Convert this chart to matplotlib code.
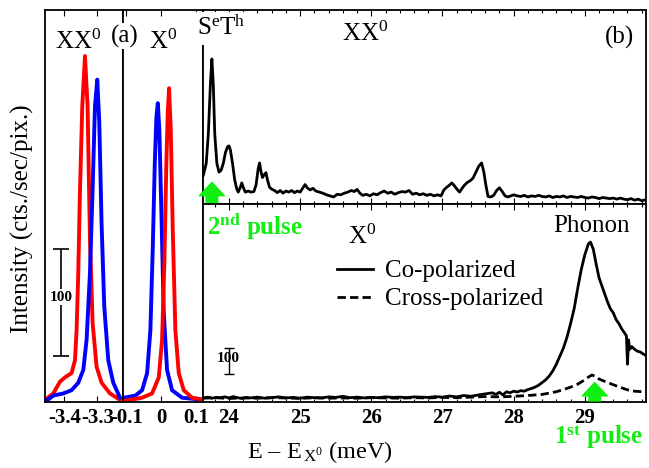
import numpy as np
import matplotlib
matplotlib.use("Agg")
from matplotlib import pyplot as plt
from matplotlib.ticker import MultipleLocator, FixedLocator

plt.rcParams['font.family'] = ['Liberation Serif', 'DejaVu Serif']
plt.rcParams['mathtext.fontset'] = 'custom'
plt.rcParams['mathtext.rm'] = 'Liberation Serif'
plt.rcParams['mathtext.it'] = 'Liberation Serif:italic'
plt.rcParams['mathtext.bf'] = 'Liberation Serif:bold'
plt.rcParams['mathtext.default'] = 'regular'
plt.rcParams['axes.unicode_minus'] = False

# ---- panel (a): XX0 peaks (energy meV, intensity)
xx_red_e = [-3.4585, -3.4333, -3.413, -3.3979, -3.3779, -3.3676, -3.3627, -3.3576,
            -3.3524, -3.3455, -3.3373, -3.3294, -3.3221, -3.3142, -3.3021, -3.287,
            -3.2615, -3.2312]
xx_red_i = [2, 8, 19, 23, 27, 39, 67, 121, 198, 276, 323, 276, 151, 74, 33, 18, 8, 2]
xx_blue_e = [-3.4585, -3.4333, -3.403, -3.3779, -3.3576, -3.3424, -3.3324, -3.3221,
             -3.3142, -3.307, -3.300, -3.2939, -3.287, -3.2788, -3.2667, -3.2515, -3.2312]
xx_blue_i = [0, 6, 8, 11, 18, 30, 58, 121, 198, 276, 301, 261, 167, 89, 39, 18, 4]

# ---- panel (a): X0 peaks
x_blue_e = [-0.1066, -0.0734, -0.0543, -0.040, -0.0306, -0.0237, -0.018, -0.0134,
            -0.0094, -0.0049, 0.0009, 0.0077, 0.0171, 0.0314, 0.060, 0.122]
x_blue_i = [4, 6, 11, 27, 67, 145, 223, 266, 279, 254, 177, 83, 30, 11, 4, 2]
x_red_e = [-0.1066, -0.0543, -0.0257, -0.0066, 0.0029, 0.0094, 0.0151, 0.0191, 0.0229,
           0.0277, 0.0334, 0.0409, 0.0506, 0.0649, 0.0886, 0.122]
x_red_i = [1, 4, 8, 23, 58, 130, 223, 270, 293, 254, 161, 67, 27, 11, 4, 2]

# ---- panel (b) top: XX0 excitation trace
xx_pl_e = [23.64, 23.68, 23.71, 23.74, 23.76, 23.78, 23.80, 23.83, 23.86, 23.89, 23.92,
           23.95, 23.98, 24.00, 24.02, 24.05, 24.08, 24.11, 24.13, 24.16, 24.18, 24.20,
           24.23, 24.27, 24.31, 24.35, 24.38, 24.41, 24.43, 24.45, 24.47, 24.50, 24.52,
           24.54, 24.57, 24.60, 24.64, 24.68, 24.72, 24.76, 24.80, 24.84, 24.88, 24.92,
           24.96, 25.00, 25.04, 25.07, 25.10, 25.14, 25.18, 25.22, 25.27, 25.32, 25.37,
           25.42, 25.47, 25.52, 25.57, 25.62, 25.67, 25.72, 25.76, 25.80, 25.84, 25.88,
           25.93, 25.98, 26.03, 26.08, 26.13, 26.18, 26.23, 26.28, 26.33, 26.38, 26.43,
           26.48, 26.53, 26.58, 26.63, 26.68, 26.73, 26.78, 26.83, 26.88, 26.93, 26.98,
           27.02, 27.06, 27.10, 27.13, 27.16, 27.20, 27.24, 27.27, 27.31, 27.35, 27.39,
           27.43, 27.47, 27.51, 27.55, 27.58, 27.61, 27.64, 27.68, 27.72, 27.76, 27.80,
           27.84, 27.88, 27.92, 27.96, 28.00, 28.05, 28.10, 28.15, 28.20, 28.25, 28.30,
           28.35, 28.40, 28.45, 28.50, 28.55, 28.60, 28.65, 28.70, 28.75, 28.80, 28.85,
           28.90, 28.95, 29.00, 29.05, 29.10, 29.15, 29.20, 29.25, 29.30, 29.35, 29.40,
           29.45, 29.50, 29.55, 29.60, 29.65, 29.70, 29.75, 29.80, 29.86]
xx_pl_i = [107, 150, 260, 450, 537, 440, 260, 150, 118, 125, 150,
           190, 212, 215, 200, 150, 90, 55, 44, 62, 78, 62,
           44, 48, 44, 46, 70, 130, 152, 120, 98, 110, 116,
           90, 62, 55, 50, 42, 50, 40, 48, 44, 50, 42,
           48, 44, 60, 72, 60, 52, 58, 48, 44, 40, 34,
           30, 26, 36, 34, 40, 44, 50, 46, 54, 40, 32,
           36, 30, 38, 34, 42, 48, 40, 44, 36, 42, 46,
           44, 50, 36, 40, 34, 38, 32, 36, 30, 34, 30,
           52, 62, 70, 78, 70, 56, 44, 56, 70, 80, 86,
           96, 118, 140, 152, 120, 70, 28, 26, 32, 50, 60,
           46, 30, 26, 30, 34, 30, 28, 32, 26, 30, 28,
           32, 28, 26, 30, 24, 28, 26, 30, 24, 28, 26,
           24, 28, 24, 22, 26, 24, 20, 24, 22, 20, 22,
           18, 22, 18, 16, 20, 14, 18, 12, 16]

# ---- panel (b) bottom: X0 excitation, co- and cross-polarized
co_e = [23.64, 23.70, 23.76, 23.82, 23.88, 23.94, 24.00, 24.06, 24.12, 24.18, 24.24,
        24.30, 24.40, 24.50, 24.60, 24.70, 24.80, 24.90, 25.00, 25.10, 25.20, 25.30,
        25.40, 25.50, 25.60, 25.70, 25.80, 25.90, 26.00, 26.10, 26.20, 26.30, 26.40,
        26.50, 26.60, 26.70, 26.80, 26.90, 27.00, 27.10, 27.20, 27.30, 27.40, 27.50,
        27.60, 27.70, 27.75, 27.80, 27.85, 27.90, 27.95, 28.00, 28.05, 28.10, 28.15,
        28.20, 28.25, 28.30, 28.35, 28.40, 28.45, 28.50, 28.55, 28.60, 28.65, 28.70,
        28.75, 28.80, 28.85, 28.90, 28.95, 29.00, 29.05, 29.08, 29.12, 29.16, 29.20,
        29.24, 29.28, 29.32, 29.36, 29.40, 29.44, 29.48, 29.52, 29.56, 29.585, 29.60,
        29.615, 29.63, 29.66, 29.70, 29.74, 29.78, 29.82, 29.86]
co_i = [15, 18, 14, 17, 16, 19, 15, 20, 16, 13, 17,
        15, 18, 14, 16, 19, 15, 17, 14, 18, 16, 15,
        19, 17, 21, 16, 18, 15, 17, 16, 19, 17, 18,
        16, 19, 18, 17, 20, 18, 22, 19, 24, 21, 26,
        30, 34, 28, 36, 26, 38, 34, 40, 37, 42, 40,
        46, 50, 55, 62, 72, 82, 96, 115, 140, 170, 200,
        240, 290, 345, 420, 490, 545, 585, 592, 565, 510, 460,
        430, 400, 370, 345, 330, 305, 290, 270, 255, 245, 140,
        230, 195, 205, 195, 188, 185, 178, 172]
cross_e = [23.64, 23.80, 24.00, 24.20, 24.40, 24.60, 24.80, 25.00, 25.20, 25.40, 25.60,
           25.80, 26.00, 26.20, 26.40, 26.60, 26.80, 27.00, 27.20, 27.40, 27.60, 27.80,
           28.00, 28.20, 28.40, 28.50, 28.60, 28.70, 28.80, 28.90, 29.00, 29.05, 29.10,
           29.15, 29.20, 29.30, 29.40, 29.50, 29.60, 29.70, 29.86]
cross_i = [14, 16, 13, 15, 14, 16, 15, 13, 16, 14, 15,
           14, 16, 15, 14, 16, 15, 17, 16, 18, 20, 19,
           21, 24, 28, 33, 38, 46, 55, 66, 82, 92, 100,
           95, 85, 74, 64, 54, 45, 40, 37]

red = '#ff0000'
blue = '#0000ff'
green = '#11ee11'

fig = plt.figure(figsize=(6.49, 4.68), dpi=100)
ax_l = fig.add_axes([45/649, 66/468, 78/649, 392/468])
ax_r = fig.add_axes([123/649, 66/468, 80/649, 392/468])
ax_top = fig.add_axes([203/649, 264/468, 443/649, 194/468])
ax_bot = fig.add_axes([203/649, 66/468, 443/649, 198/468])

ax_l.plot(xx_red_e, xx_red_i, color=red, lw=2.8)
ax_l.plot(xx_blue_e, xx_blue_i, color=blue, lw=2.8)
ax_l.set_xlim(-3.4585, -3.222)
ax_l.set_ylim(0, 366)
ax_l.xaxis.set_major_locator(FixedLocator([-3.4, -3.3]))
ax_l.set_xticklabels(['-3.4', '-3.3'])
ax_l.errorbar([-3.41], [93], yerr=[50], color='black', lw=1.2, capsize=6, capthick=1.2)
ax_l.text(-3.41, 98, '100', ha='center', va='center', fontsize=11, fontweight='bold',
          bbox=dict(facecolor='white', edgecolor='none', pad=1))

ax_r.plot(x_blue_e, x_blue_i, color=blue, lw=2.8)
ax_r.plot(x_red_e, x_red_i, color=red, lw=2.8)
ax_r.set_xlim(-0.109, 0.12)
ax_r.set_ylim(0, 366)
ax_r.xaxis.set_major_locator(FixedLocator([-0.1, 0.0, 0.1]))
ax_r.set_xticklabels(['-0.1', '0', '0.1'])

ax_top.plot(xx_pl_e, xx_pl_i, color='black', lw=2.0)
ax_top.set_ylim(0, 718)
ax_top.tick_params(labelbottom=False)

ax_bot.plot(co_e, co_i, color='black', lw=2.0, label='Co-polarized')
ax_bot.plot(cross_e, cross_i, color='black', lw=2.0, linestyle=(0, (3, 1.5)),
            label='Cross-polarized')
ax_bot.set_ylim(0, 733)
ax_bot.errorbar([24.0], [152], yerr=[48], color='black', lw=1.0, capsize=3.5, capthick=1.0)
ax_bot.text(23.99, 160, '100', ha='center', va='center', fontsize=11, fontweight='bold')

for ax in (ax_top, ax_bot):
    ax.set_xlim(23.635, 29.86)
    ax.xaxis.set_major_locator(MultipleLocator(1))
    ax.xaxis.set_minor_locator(MultipleLocator(0.2))

for ax in (ax_l, ax_r, ax_top, ax_bot):
    ax.set_yticks([])
    ax.tick_params(axis='x', which='major', direction='in', top=True, bottom=True,
                   length=4, width=0.8, labelsize=15, pad=4)
    ax.tick_params(axis='x', which='minor', direction='in', top=True, bottom=True,
                   length=2.5, width=0.8)
    for lab in ax.get_xticklabels():
        lab.set_fontweight('bold')
    for sp in ax.spines.values():
        sp.set_linewidth(1.3)

# green excitation arrows
ax_top.annotate('', xy=(23.76, 80), xytext=(23.76, 0),
                arrowprops=dict(arrowstyle='simple,head_width=1.5,head_length=0.8,tail_width=0.7',
                                mutation_scale=12, color=green, shrinkA=0, shrinkB=0))
ax_bot.annotate('', xy=(29.14, 72), xytext=(29.14, 4),
                arrowprops=dict(arrowstyle='simple,head_width=1.5,head_length=0.8,tail_width=0.7',
                                mutation_scale=12, color=green, shrinkA=0, shrinkB=0))

leg = ax_bot.legend(loc='upper left', bbox_to_anchor=(337/649, 1 - 260/468),
                    bbox_transform=fig.transFigure, frameon=False, fontsize=18,
                    handlelength=1.45, handletextpad=0.45, labelspacing=0.22,
                    borderpad=0, borderaxespad=0)

white = dict(facecolor='white', edgecolor='none', pad=1)
fig.text(78/649, 1 - 42/468, 'XX$^0$', ha='center', va='center', fontsize=18)
fig.text(125/649, 1 - 36/468, '(a)', ha='center', va='center', fontsize=18, bbox=white)
fig.text(163/649, 1 - 42/468, 'X$^0$', ha='center', va='center', fontsize=18)
fig.text(221/649, 1 - 28/468, 'S$^e$T$^h$', ha='center', va='center', fontsize=18,
         bbox=dict(facecolor='white', edgecolor='none', pad=3))
fig.text(365/649, 1 - 34/468, 'XX$^0$', ha='center', va='center', fontsize=18)
fig.text(619/649, 1 - 37/468, '(b)', ha='center', va='center', fontsize=18)
fig.text(362/649, 1 - 237/468, 'X$^0$', ha='center', va='center', fontsize=18)
fig.text(591/649, 1 - 226/468, 'Phonon', ha='center', va='center', fontsize=18)
fig.text(255/649, 1 - 226/468, '2$^{nd}$ pulse', ha='center', va='center', fontsize=18,
         fontweight='bold', color=green)
fig.text(599/649, 1 - 437/468, '1$^{st}$ pulse', ha='center', va='center', fontsize=18,
         fontweight='bold', color=green)
fig.text(320/649, 1 - 452/468, 'E – E$_{\\,X^0}$ (meV)', ha='center', va='center', fontsize=17.5)
fig.text(22/649, 1 - 219/468, 'Intensity (cts./sec/pix.)', ha='center', va='center',
         fontsize=18, rotation=90)

fig.savefig('out.png', dpi=100)
